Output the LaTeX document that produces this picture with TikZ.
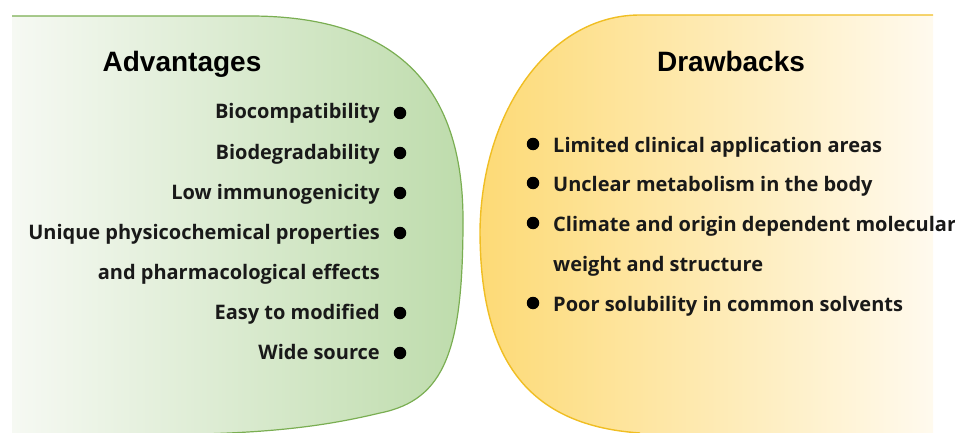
\documentclass[tikz,border=0pt]{standalone}
\usepackage{fontspec}
\setmainfont{Open Sans}
\newfontfamily\titlefont{Liberation Sans}
\definecolor{gLeft}{RGB}{246,249,243}
\definecolor{gRight}{RGB}{190,220,172}
\definecolor{gLine}{RGB}{122,174,82}
\definecolor{yLeft}{RGB}{253,218,118}
\definecolor{yRight}{RGB}{255,250,238}
\definecolor{yLine}{RGB}{240,190,35}
\tikzset{
  item/.style={font=\fontsize{20}{24}\selectfont\bfseries, inner sep=0pt, text=black!90},
  ttl/.style={font=\titlefont\fontsize{28}{32}\selectfont\bfseries, inner sep=0pt, anchor=base},
  dot/.style={circle, fill=black, inner sep=0pt, minimum size=12.5pt}
}
\begin{document}
\begin{tikzpicture}[x=1pt,y=-1pt]
\useasboundingbox (0,0) rectangle (955,433);
% green shape
\shade[left color=gLeft, right color=gRight]
  (12,16) -- (250,16) .. controls (400,16) and (463,90) .. (463,220)
  .. controls (463,350) and (445,400) .. (380,413)
  .. controls (330,425) and (280,432) .. (200,434) -- (12,434) -- cycle;
\draw[gLine, line width=1.2pt]
  (12,16) -- (250,16) .. controls (400,16) and (463,90) .. (463,220)
  .. controls (463,350) and (445,400) .. (380,413)
  .. controls (330,425) and (280,432) .. (200,434);
% yellow shape
\shade[left color=yLeft, right color=yRight]
  (933,15) -- (640,15) .. controls (550,15) and (482,110) .. (480,230)
  .. controls (480,350) and (520,425) .. (640,433)
  -- (933,434) -- cycle;
\draw[yLine, line width=1.4pt]
  (933,15) -- (640,15) .. controls (550,15) and (482,110) .. (480,230)
  .. controls (480,350) and (520,425) .. (640,433);
% titles
\node[ttl] (adv) at (182,72) {Advantages};
\node[ttl] (drw) at (731,72) {Drawbacks};
% advantages
\node[item, anchor=base east] (a1) at (380,119) {Biocompatibility};
\node[item, anchor=base east] (a2) at (380,159) {Biodegradability};
\node[item, anchor=base east] (a3) at (380,199) {Low immunogenicity};
\node[item, anchor=base east] (a4) at (380,239) {Unique physicochemical properties};
\node[item, anchor=base east] (a4b) at (380,279) {and pharmacological effects};
\node[item, anchor=base east] (a5) at (380,319) {Easy to modified};
\node[item, anchor=base east] (a6) at (380,359) {Wide source};
\node[dot] (b1) at (400,113) {};
\node[dot] (b2) at (400,153) {};
\node[dot] (b3) at (400,193) {};
\node[dot] (b4) at (400,233) {};
\node[dot] (b5) at (400,313) {};
\node[dot] (b6) at (400,353) {};
% drawbacks
\node[item, anchor=base west] (d1) at (553,152) {Limited clinical application areas};
\node[item, anchor=base west] (d2) at (553,191) {Unclear metabolism in the body};
\node[item, anchor=base west] (d3) at (553,231) {Climate and origin dependent molecular};
\node[item, anchor=base west] (d3b) at (553,271) {weight and structure};
\node[item, anchor=base west] (d4) at (553,311) {Poor solubility in common solvents};
\node[dot] (c1) at (533,144) {};
\node[dot] (c2) at (533,183) {};
\node[dot] (c3) at (533,223) {};
\node[dot] (c4) at (533,303) {};
\end{tikzpicture}
\end{document}
